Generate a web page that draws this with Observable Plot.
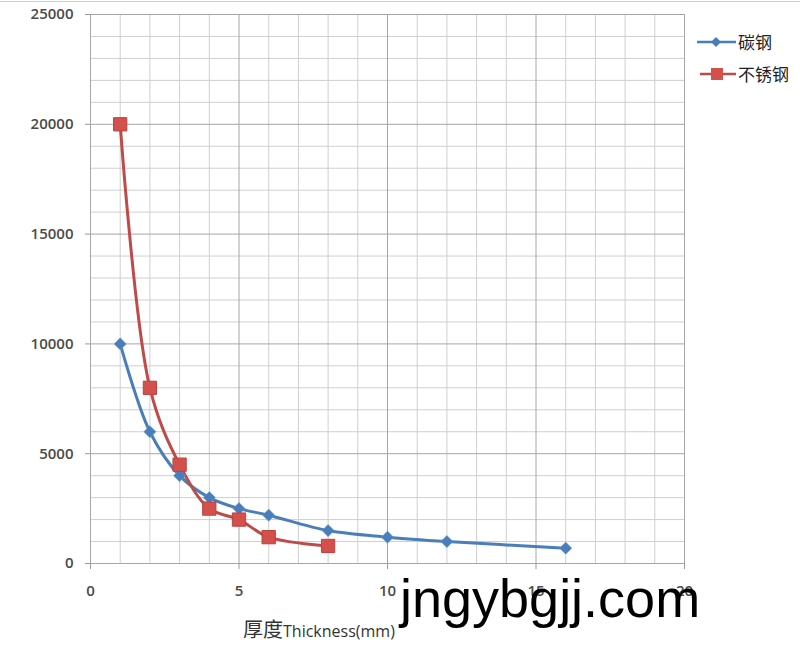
<!DOCTYPE html>
<html>
<head>
<meta charset="utf-8">
<script src="https://cdn.jsdelivr.net/npm/d3@7"></script>
<script src="https://cdn.jsdelivr.net/npm/@observablehq/plot@0.6"></script>
<style>
  html, body { margin: 0; padding: 0; background: #fff; }
  #wrap { position: relative; width: 800px; height: 647px; overflow: hidden; font-family: "Open Sans", "Liberation Sans", sans-serif; }
  #topline { position: absolute; left: 0; top: 1px; width: 800px; height: 1px; background: #cfcfcf; }
  .legend { position: absolute; left: 696px; font-size: 17px; color: #222; display: flex; align-items: center; font-family: "Noto Sans CJK SC", sans-serif; }
  .xtitle { position: absolute; left: 243px; top: 614px; color: #333; font-family: "Noto Sans CJK SC", sans-serif; white-space: nowrap; }
  .xtitle .cn { font-size: 20px; }
  .xtitle .en { font-size: 16px; font-family: "Open Sans", sans-serif; }
  .wm { position: absolute; left: 400px; top: 571px; font-family: "Liberation Sans", Arial, sans-serif; font-size: 54px; color: #000; line-height: 1; white-space: nowrap; }
</style>
</head>
<body>
<div id="wrap">
  <div id="chart"></div>
  <div id="topline"></div>
  <div class="legend" style="top:29px">
    <svg width="42" height="20"><line x1="1" y1="10" x2="40" y2="10" stroke="#4a7ebb" stroke-width="2.5"/><path d="M20,5 L25,10 L20,15 L15,10 Z" fill="#4a7ebb"/></svg>
    <span>碳钢</span>
  </div>
  <div class="legend" style="top:61px">
    <svg width="42" height="20"><line x1="4" y1="10" x2="40" y2="10" stroke="#be4b48" stroke-width="2.5"/><rect x="15" y="4" width="12" height="12" fill="#d4504c"/></svg>
    <span>不锈钢</span>
  </div>
  <div class="xtitle"><span class="cn">厚度</span><span class="en">Thickness(mm)</span></div>
  <div class="wm">jngybgjj.com</div>
</div>
<script>
const carbonX = [1, 2, 3, 4, 5, 6, 8, 10, 12, 16];
const carbonY = [10000, 6000, 4000, 3000, 2500, 2200, 1500, 1200, 1000, 700];
const stainlessX = [1, 2, 3, 4, 5, 6, 8];
const stainlessY = [20000, 8000, 4500, 2500, 2000, 1200, 800];
const xTicks = [0, 5, 10, 15, 20];
const yTicks = [0, 5000, 10000, 15000, 20000, 25000];
const xMinor = d3.range(0, 21, 1);
const yMinor = d3.range(0, 25001, 1000);

const carbon = carbonX.map((x, i) => ({x, y: carbonY[i]}));
const stainless = stainlessX.map((x, i) => ({x, y: stainlessY[i]}));

const chart = Plot.plot({
  width: 800,
  height: 647,
  marginLeft: 90,
  marginRight: 116,
  marginTop: 14,
  marginBottom: 84,
  style: {fontFamily: "Open Sans, Liberation Sans, sans-serif", fontSize: "15px", color: "#444", background: "transparent"},
  x: {domain: [0, 20]},
  y: {domain: [0, 25000]},
  marks: [
    Plot.ruleX(xMinor.filter(d => d % 5 !== 0), {stroke: "#cfcfcf", strokeWidth: 1}),
    Plot.ruleY(yMinor.filter(d => d % 5000 !== 0), {stroke: "#cfcfcf", strokeWidth: 1}),
    Plot.ruleX(xTicks, {stroke: "#a6a6a6", strokeWidth: 1}),
    Plot.ruleY(yTicks, {stroke: "#a6a6a6", strokeWidth: 1}),
    Plot.axisX({ticks: xTicks, tickFormat: d => String(d), tickSize: 6, tickPadding: 16, label: null, stroke: "#999", fill: "#4a4a4a", fontSize: 15, fontWeight: 600}),
    Plot.axisY({ticks: yTicks, tickFormat: d => String(d), tickSize: 5, tickPadding: 12, label: null, stroke: "#999", fill: "#4a4a4a", fontSize: 15, fontWeight: 600}),
    Plot.line(carbon, {x: "x", y: "y", stroke: "#4a7ebb", strokeWidth: 3, curve: "catmull-rom"}),
    Plot.line(stainless, {x: "x", y: "y", stroke: "#be4b48", strokeWidth: 3, curve: "catmull-rom"}),
    Plot.dot(carbon, {x: "x", y: "y", symbol: "diamond2", r: 5.5, fill: "#4a7ebb", stroke: "#6a9bd0", strokeWidth: 0.5}),
    Plot.dot(stainless, {x: "x", y: "y", symbol: "square", r: 7.5, fill: "#d4504c", stroke: "#b84440", strokeWidth: 1})
  ]
});
document.getElementById("chart").appendChild(chart);
</script>
</body>
</html>
